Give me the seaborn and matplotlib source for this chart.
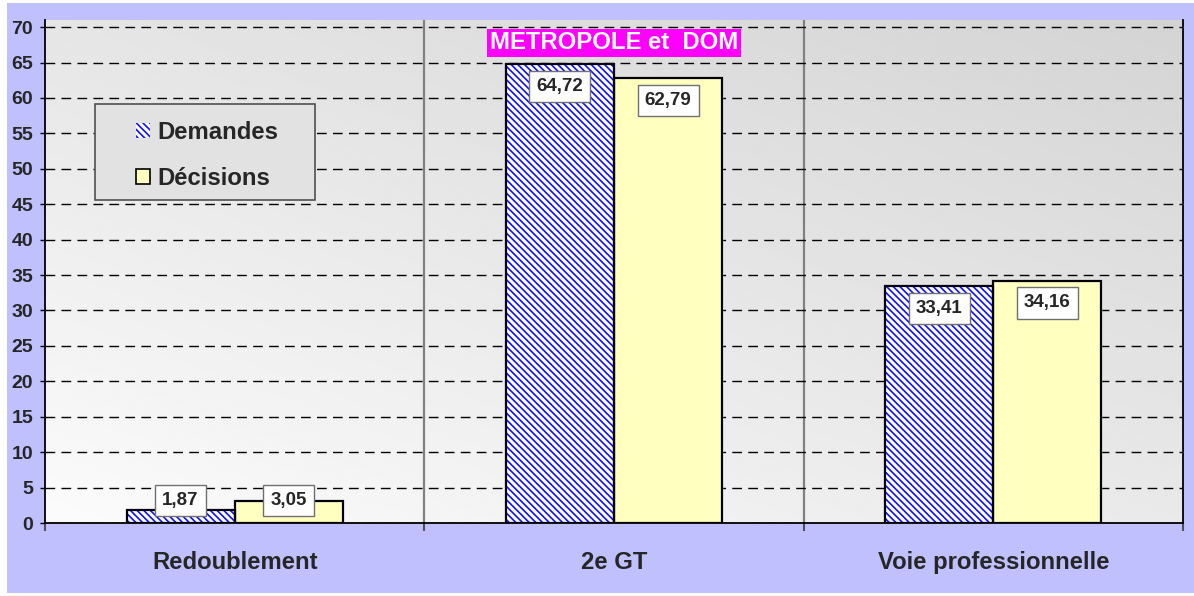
import numpy as np
import pandas as pd
import seaborn as sns
import matplotlib.pyplot as plt
from matplotlib.patches import Rectangle, Patch

# Data
categories = ['Redoublement', '2e GT', 'Voie professionnelle']
demandes = [1.87, 64.72, 33.41]
decisions = [3.05, 62.79, 34.16]
series = ['Demandes', 'Décisions']
title_text = 'METROPOLE et  DOM'

LAVENDER = '#C0C0FF'
YELLOW = '#FFFFC0'
BLUE = '#1010FF'
FONT = ['Liberation Sans', 'DejaVu Sans']
HATCH = '\\' * 5

df = pd.DataFrame({
    'categorie': categories * 2,
    'valeur': demandes + decisions,
    'serie': [series[0]] * len(categories) + [series[1]] * len(categories),
})

sns.set_theme(style='white')
plt.rcParams['font.family'] = FONT
plt.rcParams['hatch.linewidth'] = 1.2

fig = plt.figure(figsize=(11.94, 5.96), dpi=100)
fig.patch.set_facecolor('white')
fig.patches.append(Rectangle((7 / 1194, 3 / 596), 1, 590 / 596, transform=fig.transFigure,
                             facecolor=LAVENDER, edgecolor='none', zorder=-5))
ax = fig.add_axes([45 / 1194, 73 / 596, 1138 / 1194, 503 / 596])
ax.patch.set_alpha(0)

sns.barplot(data=df, x='categorie', y='valeur', hue='serie', order=categories,
            hue_order=series, palette=['white', YELLOW], width=0.57, saturation=1,
            legend=False, ax=ax, zorder=3)

ax.set_xlim(-0.5, 2.5)
ax.set_ylim(0, 71)

# gradient background of the plot area
gy, gx = np.mgrid[0:1:200j, 0:1:200j]
shade = 0.985 - 0.085 * gy - 0.07 * gx
ax.imshow(shade, extent=(-0.5, 2.5, 0, 71), origin='lower', aspect='auto',
          cmap='gray', vmin=0, vmax=1, zorder=0)

# hatched Demandes bars with black outline
for bar in ax.containers[0]:
    bar.set_facecolor('white')
    bar.set_edgecolor(BLUE)
    bar.set_hatch(HATCH)
    bar.set_linewidth(0)
for cont in ax.containers:
    for bar in cont:
        ax.add_patch(Rectangle((bar.get_x(), bar.get_y()), bar.get_width(), bar.get_height(),
                               fill=False, edgecolor='black', linewidth=1.6, zorder=4))
        lab_y = max(bar.get_height() - 3.1, 3.2)
        ax.text(bar.get_x() + bar.get_width() / 2, lab_y, f'{bar.get_height():.2f}'.replace('.', ','),
                ha='center', va='center', fontsize=13.5, fontweight='bold', family=FONT, zorder=6,
                bbox=dict(boxstyle='square,pad=0.38', facecolor='white', edgecolor='#707070', linewidth=1))

# gridlines and category separators
ax.set_yticks(np.arange(0, 71, 5))
ax.yaxis.grid(True, color='black', linestyle=(0, (7, 4.5)), linewidth=1)
ax.set_axisbelow(False)
for gl in ax.get_ygridlines():
    gl.set_zorder(1)
for xv in [0.5, 1.5]:
    ax.axvline(xv, color='#808080', linewidth=1.6, zorder=2)

# ticks: boundaries as major ticks, labels on minor ticks
ax.set_xticks([-0.5, 0.5, 1.5, 2.5])
ax.set_xticklabels([])
ax.set_xticks([0, 1, 2], minor=True)
ax.set_xticklabels(categories, minor=True, fontsize=17.2, fontweight='bold', family=FONT)
ax.tick_params(axis='x', which='major', direction='out', length=6, width=1.5, color='#505050', bottom=True)
ax.tick_params(axis='x', which='minor', length=0, pad=20.5)
ax.tick_params(axis='y', direction='out', length=3.6, width=1, color='black', left=True, pad=5)
ax.set_yticklabels([str(v) for v in range(0, 71, 5)], fontsize=14, fontweight='bold', family=FONT)
ax.set_xlabel('')
ax.set_ylabel('')

for side in ['left', 'bottom', 'right']:
    ax.spines[side].set_visible(True)
    ax.spines[side].set_color('black')
    ax.spines[side].set_linewidth(1.3)
    ax.spines[side].set_zorder(5)
ax.spines['top'].set_visible(False)

# title box
ax.text(1, 67.8, title_text, ha='center', va='center', color='white', fontsize=17.2,
        fontweight='bold', family=FONT, zorder=7,
        bbox=dict(boxstyle='square,pad=0.1', facecolor='#FF00FF', edgecolor='none'))

# legend
ax.add_patch(Rectangle((50 / 1138, 323 / 503), 220 / 1138, 96 / 503, transform=ax.transAxes,
                       facecolor='#E2E2E2', edgecolor='#505050', linewidth=1.2, zorder=6))
handles = [Patch(facecolor='white', edgecolor=BLUE, hatch=HATCH, linewidth=0),
           Patch(facecolor=YELLOW, edgecolor='black', linewidth=1.2)]
leg = ax.legend(handles, series, loc='upper left', bbox_to_anchor=(79 / 1138, 414 / 503),
                frameon=False, handlelength=0.6, handleheight=0.6,
                handletextpad=0.3, labelspacing=0.95, borderpad=0,
                prop={'family': FONT, 'weight': 'bold', 'size': 17.2})
leg.set_zorder(8)

fig.savefig('out.png', dpi=100)
